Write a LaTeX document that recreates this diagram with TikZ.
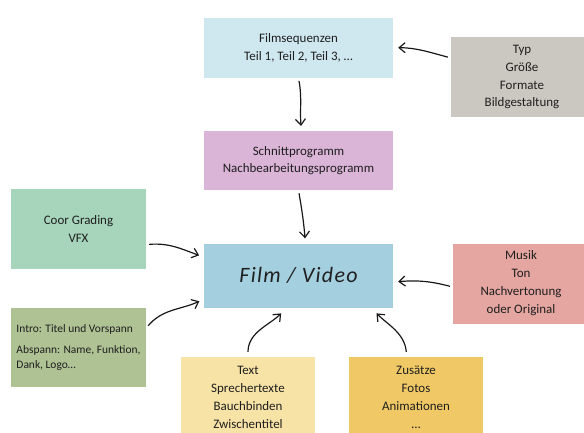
\documentclass[tikz,border=0pt]{standalone}
\usepackage{fontspec}
\setmainfont{Carlito}
\usetikzlibrary{arrows.meta,positioning}
\definecolor{seqblue}{HTML}{CFE7EF}
\definecolor{typgrey}{HTML}{CBC8C1}
\definecolor{cutpink}{HTML}{DBB5D8}
\definecolor{coorgreen}{HTML}{A7D5BC}
\definecolor{filmblue}{HTML}{A4CFDF}
\definecolor{musikred}{HTML}{E5A6A1}
\definecolor{introgreen}{HTML}{AFC294}
\definecolor{textyellow}{HTML}{F7E3A6}
\definecolor{zusgold}{HTML}{F0C966}

\begin{document}
\begin{tikzpicture}[x=1bp,y=-1bp,font=\fontsize{13}{18}\selectfont,node distance=53bp,
 box/.style={align=center,text=black!88,inner sep=3bp,minimum width=189bp},
 side/.style={align=center,text=black!88,inner sep=3bp,minimum width=135bp,minimum height=80bp},
 arr/.style={-{Straight Barb[length=6bp,width=10bp]},line width=1.2bp,black!90,shorten <=3bp,shorten >=5bp}]
 \useasboundingbox (0,0) rectangle (584,432);
 \node[box,fill=filmblue,minimum height=64bp] (film) at (298.5,275.5) {\itshape\fontsize{22}{24}\selectfont\addfontfeature{LetterSpace=6}Film / Video};
 \node[box,fill=cutpink,minimum height=59bp,above=of film] (cut) {Schnittprogramm\\Nachbearbeitungsprogramm};
 \node[box,fill=seqblue,minimum height=60bp,above=of cut] (seq) {Filmsequenzen\\Teil 1, Teil 2, Teil 3, \dots};
 \node[side,fill=typgrey,minimum width=142bp] (typ) at (522,77) {Typ\\Größe\\Formate\\Bildgestaltung};
 \node[side,fill=musikred,minimum width=136bp] (musik) at (521,283.5) {Musik\\Ton\\Nachvertonung\\oder Original};
 \node[side,fill=coorgreen] (coor) at (78.5,229) {Coor Grading\\VFX};
 \node[side,fill=introgreen,minimum height=79bp,align=left,font=\fontsize{11.5}{16}\selectfont] (intro) at (78.5,347.5) {Intro: Titel und Vorspann\\[5bp]Abspann: Name, Funktion,\\Dank, Logo\dots};
 \node[side,fill=textyellow,minimum width=134bp] (txt) at (248,397) {Text\\Sprechertexte\\Bauchbinden\\Zwischentitel};
 \node[side,fill=zusgold,minimum width=134bp] (zus) at (416,397) {Zusätze\\Fotos\\Animationen\\\dots};
 \draw[arr] (typ.165) to[out=165,in=0] (seq.east);
 \draw[arr] (seq.south) to[out=-80,in=95] ([xshift=3bp]cut.north);
 \draw[arr] (cut.south) to[out=-80,in=95] ([xshift=7bp]film.north);
 \draw[arr] (coor.-13) to[out=5,in=160] (film.169);
 \draw[arr] (intro.16) to[out=50,in=205] (film.194);
 \draw[arr,shorten <=5bp,shorten >=8bp] (txt.north) to[out=90,in=225] (film.250);
 \draw[arr,shorten <=5bp,shorten >=8bp] (zus.103) to[out=95,in=-45] (film.336);
 \draw[arr] (musik.183) to[out=165,in=5] (film.356);
\end{tikzpicture}
\end{document}
